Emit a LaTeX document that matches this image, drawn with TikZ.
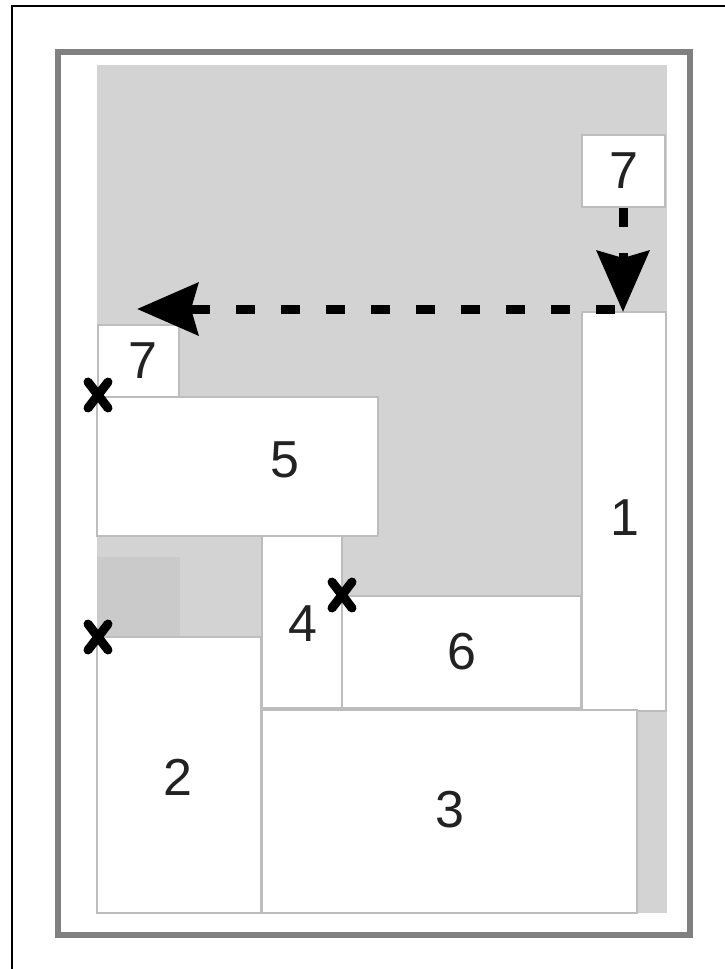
\documentclass[tikz,border=0pt]{standalone}
\usepackage{fontspec}
\setmainfont{Liberation Sans}
\usetikzlibrary{arrows.meta}
\definecolor{areagray}{HTML}{D3D3D3}
\definecolor{cornergray}{HTML}{CACACA}
\definecolor{edgegray}{HTML}{BDBDBD}
\definecolor{framegray}{HTML}{808080}
\definecolor{digit}{HTML}{222222}
\tikzset{
  piece/.style={draw=edgegray, line width=1.5pt, fill=white},
  num/.style={font=\fontsize{52}{52}\selectfont, text=digit, inner sep=0pt},
  moveline/.style={line width=9pt, dash pattern=on 19pt off 26pt,
    -{Stealth[length=61pt, width=52pt, inset=7pt]}},
  xmark/.pic={\draw[line width=9pt, line cap=round]
    (-10,-13) -- (10,13) (-10,13) -- (10,-13);}
}
\begin{document}
\begin{tikzpicture}[x=1pt, y=-1pt]
\useasboundingbox (0,0) rectangle (725,969);
\fill[white] (0,0) rectangle (725,969);
% outer sheet border
\draw[line width=2.5pt] (12,6) rectangle (760,1000);
% container frame
\draw[framegray, line width=6pt] (58,52) rectangle (690,935);
% free area of the container
\fill[areagray] (97,65) rectangle (667,913);
\fill[cornergray] (97,557) rectangle (180,637);
% placed pieces
\draw[piece] (582,135) rectangle (665,207);
\draw[piece] (582,312) rectangle (666,711);
\draw[piece] (98,325) rectangle (179,397);
\draw[piece] (97,397) rectangle (378,536);
\draw[piece] (97,637) rectangle (261,913);
\draw[piece] (262,536) rectangle (342,708);
\draw[piece] (342,596) rectangle (581,708);
\draw[piece] (262,710) rectangle (637,913);
% labels
\node[num] (n7a) at (624,171) {7};
\node[num] (n7b) at (143,361) {7};
\node[num] (n5) at (285,460) {5};
\node[num] (n1) at (625,518) {1};
\node[num] (n4) at (303,624) {4};
\node[num] (n6) at (462,652) {6};
\node[num] (n2) at (178,777) {2};
\node[num] (n3) at (450,810) {3};
% movement of piece 7
\coordinate (p7top) at (623,208);
\coordinate (drop) at (623,312);
\coordinate (slide) at (615,309);
\coordinate (left) at (137,309);
\draw[moveline] (p7top) -- (drop);
\draw[moveline] (slide) -- (left);
% candidate corner points
\pic at (98,395) {xmark};
\pic at (98,637) {xmark};
\pic at (342,595) {xmark};
\end{tikzpicture}
\end{document}
